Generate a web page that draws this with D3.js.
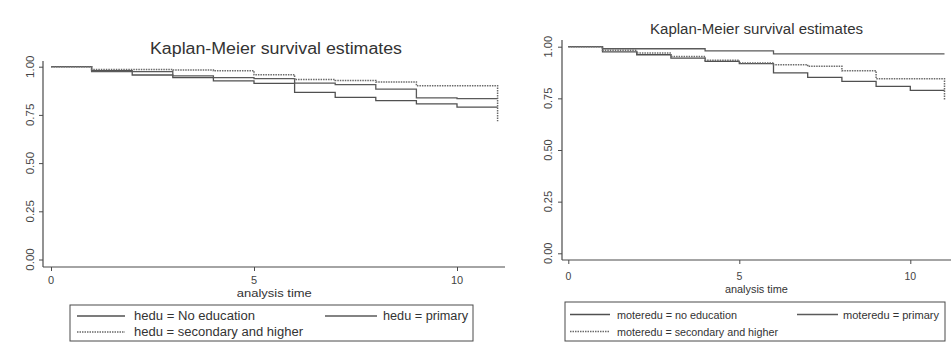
<!DOCTYPE html>
<html><head><meta charset="utf-8">
<script src="https://cdn.jsdelivr.net/npm/d3@7"></script>
<style>
html,body{margin:0;padding:0;background:#fff;}
svg{display:block;font-family:"Liberation Sans",Arial,sans-serif;}
</style></head>
<body>
<svg id="c" width="952" height="347"></svg>
<script>
// ---------- data ----------
const times = [0,1,2,3,4,5,6,7,8,9,10,11];
const yTicks = [0,0.25,0.5,0.75,1];
const xTicks = [0,5,10];
const title = "Kaplan-Meier survival estimates";
const xLabel = "analysis time";

// Left panel (hedu)
const leftNames = ["hedu = No education","hedu = primary","hedu = secondary and higher"];
const hNoEdu     = [1,0.979,0.957,0.943,0.926,0.913,0.867,0.841,0.824,0.807,0.790,0.790];
const hPrimary   = [1,0.974,0.974,0.952,0.943,0.938,0.915,0.907,0.884,0.838,0.834,0.834];
const hSecondary = [1,0.986,0.986,0.983,0.979,0.958,0.933,0.929,0.921,0.901,0.901,0.717];

// Right panel (moteredu)
const rightNames = ["moteredu = no education","moteredu = primary","moteredu = secondary and higher"];
const mNoEdu     = [1,0.975,0.961,0.945,0.929,0.918,0.873,0.852,0.832,0.808,0.789,0.789];
const mPrimary   = [1,0.990,0.990,0.990,0.980,0.980,0.965,0.965,0.965,0.965,0.965,0.965];
const mSecondary = [1,0.983,0.969,0.953,0.934,0.921,0.913,0.905,0.884,0.845,0.845,0.740];

// ---------- drawing ----------
const svg = d3.select("#c");
svg.append("rect").attr("width",952).attr("height",347).attr("fill","#ffffff");

const panels = [
  {names:leftNames, series:[hNoEdu,hPrimary,hSecondary],
   x:[51,497.6], y:[259.5,66.7], axisX:43, axisY:267, axTop:61, axRight:505,
   titleX:276, titleY:54, titleSize:16, titleLen:252,
   tickLabY:284, xlabY:296.5, xlabLen:75, ylabOff:13, fs:11,
   legend:{x0:70,y0:305,x1:473,y1:341, r1:316, r2:332, s1:[77,125], s2:[325,377], t1:134, t2:383, len:[121,85,169]}},
  {names:rightNames, series:[mNoEdu,mPrimary,mSecondary],
   x:[568.3,944.5], y:[253.3,46.7], axisX:562, axisY:260, axTop:40, axRight:951,
   titleX:756.5, titleY:33.5, titleSize:14, titleLen:213,
   tickLabY:279.5, xlabY:292.5, xlabLen:63, ylabOff:13.5, fs:10.5,
   legend:{x0:565,y0:302,x1:945,y1:341, r1:314.5, r2:331.5, s1:[570,610], s2:[797,838], t1:617, t2:843, len:[120,96,161]}}
];

const ink = "#4a4a4a";
panels.forEach((p,pi)=>{
  const g = svg.append("g");
  const x = d3.scaleLinear().domain([0,11]).range(p.x);
  const y = d3.scaleLinear().domain([0,1]).range(p.y);

  // title
  g.append("text").attr("x",p.titleX).attr("y",p.titleY).attr("text-anchor","middle")
    .attr("font-size",p.titleSize).attr("fill","#333").attr("textLength",p.titleLen)
    .attr("lengthAdjust","spacingAndGlyphs").text(title);

  // axis lines
  g.append("line").attr("x1",p.axisX).attr("x2",p.axisX).attr("y1",p.axTop).attr("y2",p.axisY)
    .attr("stroke",ink).attr("stroke-width",1.2);
  g.append("line").attr("x1",p.axisX).attr("x2",p.axRight).attr("y1",p.axisY).attr("y2",p.axisY)
    .attr("stroke",ink).attr("stroke-width",1.2);

  // y axis ticks
  const ya = d3.axisLeft(y).tickValues(yTicks).tickSize(4).tickFormat(()=>"");
  const yg = g.append("g").attr("transform",`translate(${p.axisX},0)`).call(ya);
  yg.select(".domain").remove();
  yg.selectAll("line").attr("stroke",ink);
  // rotated tick labels
  g.selectAll(".ylab").data(yTicks).enter().append("text")
    .attr("transform",d=>`translate(${p.axisX-p.ylabOff+3.5},${y(d)}) rotate(-90)`)
    .attr("text-anchor","middle").attr("font-size",p.fs+0.5).attr("fill","#444")
    .text(d=>d3.format(".2f")(d));

  // x axis ticks
  const xa = d3.axisBottom(x).tickValues(xTicks).tickSize(4).tickFormat(()=>"");
  const xg = g.append("g").attr("transform",`translate(0,${p.axisY})`).call(xa);
  xg.select(".domain").remove();
  xg.selectAll("line").attr("stroke",ink);
  g.selectAll(".xlab").data(xTicks).enter().append("text")
    .attr("x",d=>x(d)).attr("y",p.tickLabY).attr("text-anchor","middle")
    .attr("font-size",p.fs).attr("fill","#444").text(d=>d);
  g.append("text").attr("x",(p.x[0]+p.x[1])/2).attr("y",p.xlabY).attr("text-anchor","middle")
    .attr("font-size",p.fs).attr("fill","#333").attr("textLength",p.xlabLen)
    .attr("lengthAdjust","spacingAndGlyphs").text(xLabel);

  // KM step curves
  const line = d3.line().x((d,i)=>x(times[i])).y(d=>y(d)).curve(d3.curveStepAfter);
  const styles = [
    {stroke:"#505050", dash:null, w:1.3},
    {stroke:"#5a5a5a", dash:null, w:1.3},
    {stroke:"#6a6a6a", dash:"1.5,1", w:1.5}
  ];
  p.series.forEach((s,i)=>{
    g.append("path").attr("d",line(s)).attr("fill","none")
      .attr("stroke",styles[i].stroke).attr("stroke-width",styles[i].w)
      .attr("stroke-dasharray",styles[i].dash);
  });

  // legend
  const L = p.legend;
  g.append("rect").attr("x",L.x0).attr("y",L.y0).attr("width",L.x1-L.x0).attr("height",L.y1-L.y0)
    .attr("fill","#fff").attr("stroke",ink).attr("stroke-width",1);
  const items = [
    {sx:L.s1, ty:L.r1, tx:L.t1, st:styles[0]},
    {sx:L.s2, ty:L.r1, tx:L.t2, st:styles[1]},
    {sx:L.s1, ty:L.r2, tx:L.t1, st:styles[2]}
  ];
  items.forEach((it,i)=>{
    g.append("line").attr("x1",it.sx[0]).attr("x2",it.sx[1]).attr("y1",it.ty).attr("y2",it.ty)
      .attr("stroke",it.st.stroke).attr("stroke-width",it.st.w).attr("stroke-dasharray",it.st.dash);
    g.append("text").attr("x",it.tx).attr("y",it.ty+4).attr("font-size",p.fs+1)
      .attr("fill","#333").attr("textLength",L.len[i]).attr("lengthAdjust","spacingAndGlyphs")
      .text(p.names[i]);
  });
});
</script>
</body></html>
